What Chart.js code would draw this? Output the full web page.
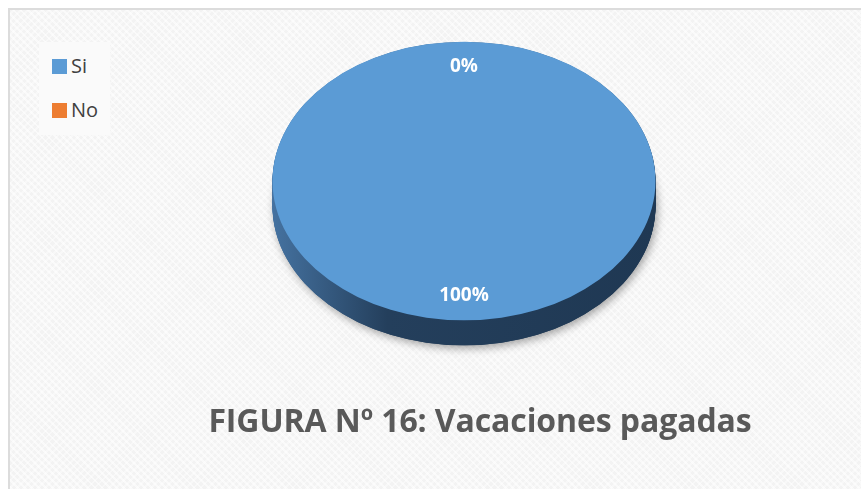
<!DOCTYPE html>
<html>
<head>
<meta charset="utf-8">
<script src="https://cdn.jsdelivr.net/npm/chart.js@4/dist/chart.umd.min.js"></script>
<style>
  body { margin: 0; width: 861px; height: 489px; background: #fff; overflow: hidden; font-family: "Open Sans", sans-serif; }
  #frame {
    position: absolute; left: 8px; top: 8px; width: 870px; height: 500px;
    border-left: 2px solid #dcdcdc; border-top: 2px solid #dcdcdc;
    background-color: #f3f3f3;
    background-image:
      repeating-linear-gradient(45deg, rgba(255,255,255,0.55) 0 2px, rgba(255,255,255,0) 2px 5px),
      repeating-linear-gradient(-45deg, rgba(255,255,255,0.45) 0 2px, rgba(255,255,255,0) 2px 5px);
  }
  #wrap { position: absolute; left: 0; top: 0; width: 861px; height: 489px; }
  #legend { position: absolute; left: 39px; top: 42px; width: 71px; height: 93px; background: #fafafa; }
  .item { position: absolute; left: 13px; height: 20px; font-size: 20px; line-height: 20px; color: #404040; }
  .item span.box { display: inline-block; width: 15px; height: 15px; vertical-align: -1px; margin-right: 4px; }
  #title { position: absolute; left: 0; width: 960px; top: 398px; text-align: center; font-weight: bold; font-size: 32px; color: #595959; letter-spacing: -0.1px; }
</style>
</head>
<body>
<div id="frame"></div>
<div id="wrap"><canvas id="myChart" width="861" height="489"></canvas></div>
<div id="legend"></div>
<div id="title">FIGURA Nº 16: Vacaciones pagadas</div>
<script>
let labels = ['Si', 'No']
let values = [100, 0]
let colors = ['#5b9bd5', '#ed7d31']
let sideColors = [['#4572a0', '#243f5c', '#1f3853'], ['#b35d22', '#7a3f17', '#6c3714']]

// 3d look: ellipse centre, tilt and thickness
const pieCenterY = 181
const tilt = 139 / 191
const depth = 25

// html legend from the arrays
const legend = document.getElementById('legend')
labels.forEach((lab, i) => {
    const d = document.createElement('div')
    d.className = 'item'
    d.style.top = (14 + i * 44) + 'px'
    d.innerHTML = '<span class="box" style="background:' + colors[i] + '"></span>' + lab
    legend.appendChild(d)
})

const pie3d = {
    id: 'pie3d',
    beforeDatasetsDraw(chart) {
        const ctx = chart.ctx
        const meta = chart.getDatasetMeta(0)
        const first = meta.data[0]
        const cx = first.x, cy = first.y
        ctx.save()
        ctx.translate(cx, pieCenterY)
        ctx.scale(1, tilt)
        ctx.translate(-cx, -cy)
        const d = depth / tilt
        meta.data.forEach((a, i) => {
            if (a.circumference <= 0) return
            const r = a.outerRadius
            const g = ctx.createLinearGradient(cx - r, 0, cx + r, 0)
            g.addColorStop(0, sideColors[i][0])
            g.addColorStop(0.3, sideColors[i][1])
            g.addColorStop(1, sideColors[i][2])
            ctx.fillStyle = g
            // bottom with shadow
            ctx.save()
            ctx.shadowColor = 'rgba(0,0,0,0.35)'
            ctx.shadowBlur = 8
            ctx.shadowOffsetX = 2
            ctx.shadowOffsetY = 3
            ctx.beginPath()
            ctx.moveTo(cx, cy + d)
            ctx.arc(cx, cy + d, r, a.startAngle, a.endAngle)
            ctx.closePath()
            ctx.fill()
            ctx.restore()
            for (let k = d; k > 0; k -= 1) {
                ctx.beginPath()
                ctx.moveTo(cx, cy + k)
                ctx.arc(cx, cy + k, r, a.startAngle, a.endAngle)
                ctx.closePath()
                ctx.fill()
            }
        })
    },
    afterDatasetsDraw(chart) {
        const ctx = chart.ctx
        ctx.restore()
        const meta = chart.getDatasetMeta(0)
        const total = values.reduce((s, v) => s + v, 0)
        ctx.save()
        ctx.fillStyle = '#ffffff'
        ctx.font = 'bold 19px "Open Sans"'
        ctx.textAlign = 'center'
        ctx.textBaseline = 'middle'
        meta.data.forEach((a, i) => {
            const mid = (a.startAngle + a.endAngle) / 2
            const rr = a.outerRadius * 0.82
            const px = a.x + Math.cos(mid) * rr
            const py = pieCenterY + Math.sin(mid) * rr * tilt
            ctx.fillText(Math.round(values[i] / total * 100) + '%', px, py)
        })
        ctx.restore()
    }
}

const ctx = document.getElementById('myChart')
new Chart(ctx, {
    type: 'pie',
    data: {
        labels: labels,
        datasets: [{
            data: values,
            backgroundColor: colors,
            borderWidth: 0
        }]
    },
    options: {
        responsive: false,
        animation: false,
        layout: { padding: { left: 272, right: 205, top: 0, bottom: 106 } },
        plugins: {
            legend: { display: false },
            tooltip: { enabled: false }
        }
    },
    plugins: [pie3d]
})
</script>
</body>
</html>
